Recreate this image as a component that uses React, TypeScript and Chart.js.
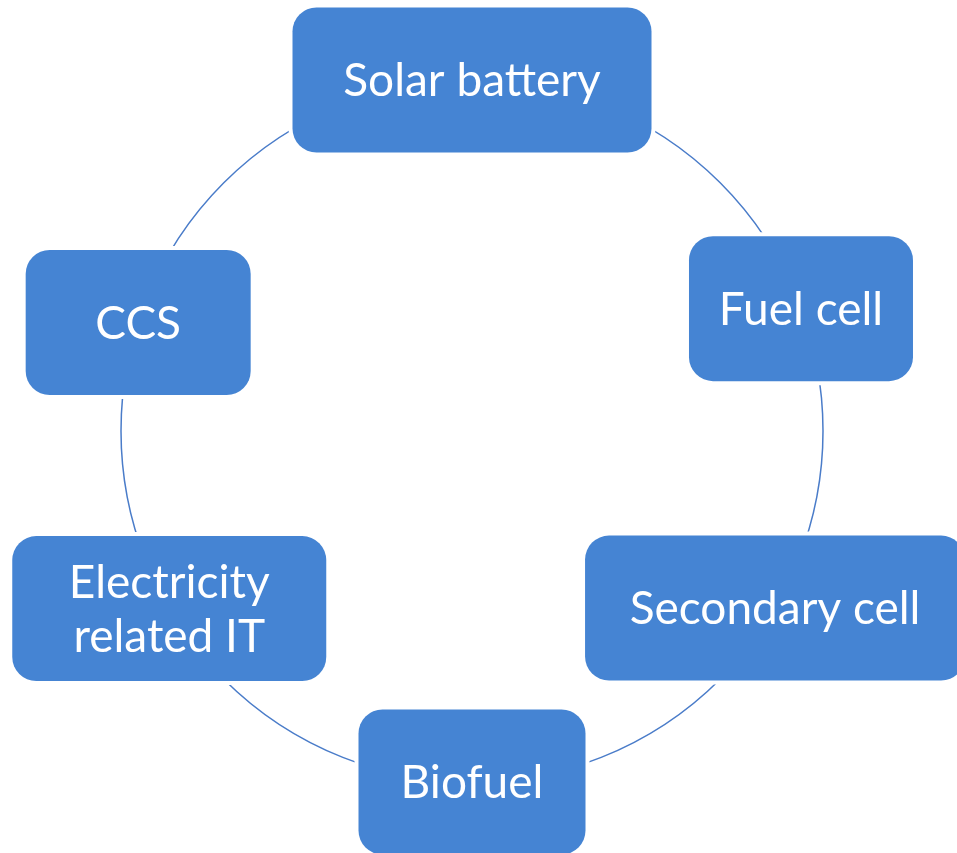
import React, { useEffect, useRef } from "react";
import { Chart, registerables } from "chart.js";

Chart.register(...registerables);

// Cycle nodes (clockwise from the top)
const nodeLabels = ["Solar battery", "Fuel cell", "Secondary cell", "Biofuel", "Electricity\nrelated IT", "CCS"];
// angular placement of each node on the ring (degrees, screen convention: 0 = right, 90 = down)
const nodeAngles = [-90, -20.4, 30.3, 90, 149.6, 198];

// layout / style (kept out of the data arrays)
const RING_RADIUS = 351;
const CENTER_X = 472;
const CENTER_Y = 431;
const BOX_WIDTHS = [359, 224, 380, 227, 314, 225];
const BOX_HEIGHT = 145;
const BOX_RADIUS = 24;
const BOX_COLOR = "#4584D3";
const RING_COLOR = "#4A7CC9";
const FONT = "46px Lato";
const W = 957;
const H = 853;

function roundRect(ctx: CanvasRenderingContext2D, x: number, y: number, w: number, h: number, r: number) {
  ctx.beginPath();
  ctx.moveTo(x + r, y);
  ctx.lineTo(x + w - r, y);
  ctx.arcTo(x + w, y, x + w, y + r, r);
  ctx.lineTo(x + w, y + h - r);
  ctx.arcTo(x + w, y + h, x + w - r, y + h, r);
  ctx.lineTo(x + r, y + h);
  ctx.arcTo(x, y + h, x, y + h - r, r);
  ctx.lineTo(x, y + r);
  ctx.arcTo(x, y, x + r, y, r);
  ctx.closePath();
}

const cyclePlugin = {
  id: "cycleDiagram",
  afterDatasetsDraw(chart: any) {
    const ctx: CanvasRenderingContext2D = chart.ctx;
    const xs = chart.scales.x;
    const ys = chart.scales.y;
    const cx = xs.getPixelForValue(0);
    const cy = ys.getPixelForValue(0);
    const r = Math.abs(xs.getPixelForValue(RING_RADIUS) - cx);
    ctx.save();
    // ring
    ctx.beginPath();
    ctx.arc(cx, cy, r, 0, Math.PI * 2);
    ctx.strokeStyle = RING_COLOR;
    ctx.lineWidth = 1.5;
    ctx.stroke();
    // boxes
    const meta = chart.getDatasetMeta(0);
    meta.data.forEach((pt: any, i: number) => {
      const w = BOX_WIDTHS[i];
      const h = BOX_HEIGHT;
      const x = pt.x - w / 2;
      const y = pt.y - h / 2;
      roundRect(ctx, x, y, w, h, BOX_RADIUS);
      ctx.strokeStyle = "#ffffff";
      ctx.lineWidth = 8;
      ctx.stroke();
      ctx.fillStyle = BOX_COLOR;
      ctx.fill();
      ctx.fillStyle = "#ffffff";
      ctx.font = FONT;
      ctx.textAlign = "center";
      ctx.textBaseline = "alphabetic";
      const lines = nodeLabels[i].split("\n");
      const lh = 54;
      const base = pt.y + 16 - ((lines.length - 1) * lh) / 2;
      lines.forEach((ln, j) => ctx.fillText(ln, pt.x, base + j * lh));
    });
    ctx.restore();
  },
};

export default function App() {
  const ref = useRef<HTMLCanvasElement | null>(null);
  useEffect(() => {
    if (!ref.current) return;
    const data = nodeAngles.map((a) => ({
      x: RING_RADIUS * Math.cos((a * Math.PI) / 180),
      y: RING_RADIUS * Math.sin((a * Math.PI) / 180),
    }));
    const chart = new Chart(ref.current, {
      type: "scatter",
      data: {
        labels: nodeLabels,
        datasets: [{ data, pointRadius: 0, pointHoverRadius: 0, showLine: false }],
      },
      options: {
        responsive: true,
        maintainAspectRatio: false,
        animation: false,
        events: [],
        layout: { padding: 0 },
        plugins: { legend: { display: false }, tooltip: { enabled: false } },
        scales: {
          x: { type: "linear", display: false, min: -CENTER_X, max: W - CENTER_X },
          y: { type: "linear", display: false, min: -CENTER_Y, max: H - CENTER_Y, reverse: true },
        },
      },
      plugins: [cyclePlugin],
    });
    return () => chart.destroy();
  }, []);
  return (
    <div style={{ position: "fixed", left: 0, top: 0, width: W, height: H, background: "#fff" }}>
      <canvas ref={ref} />
    </div>
  );
}
